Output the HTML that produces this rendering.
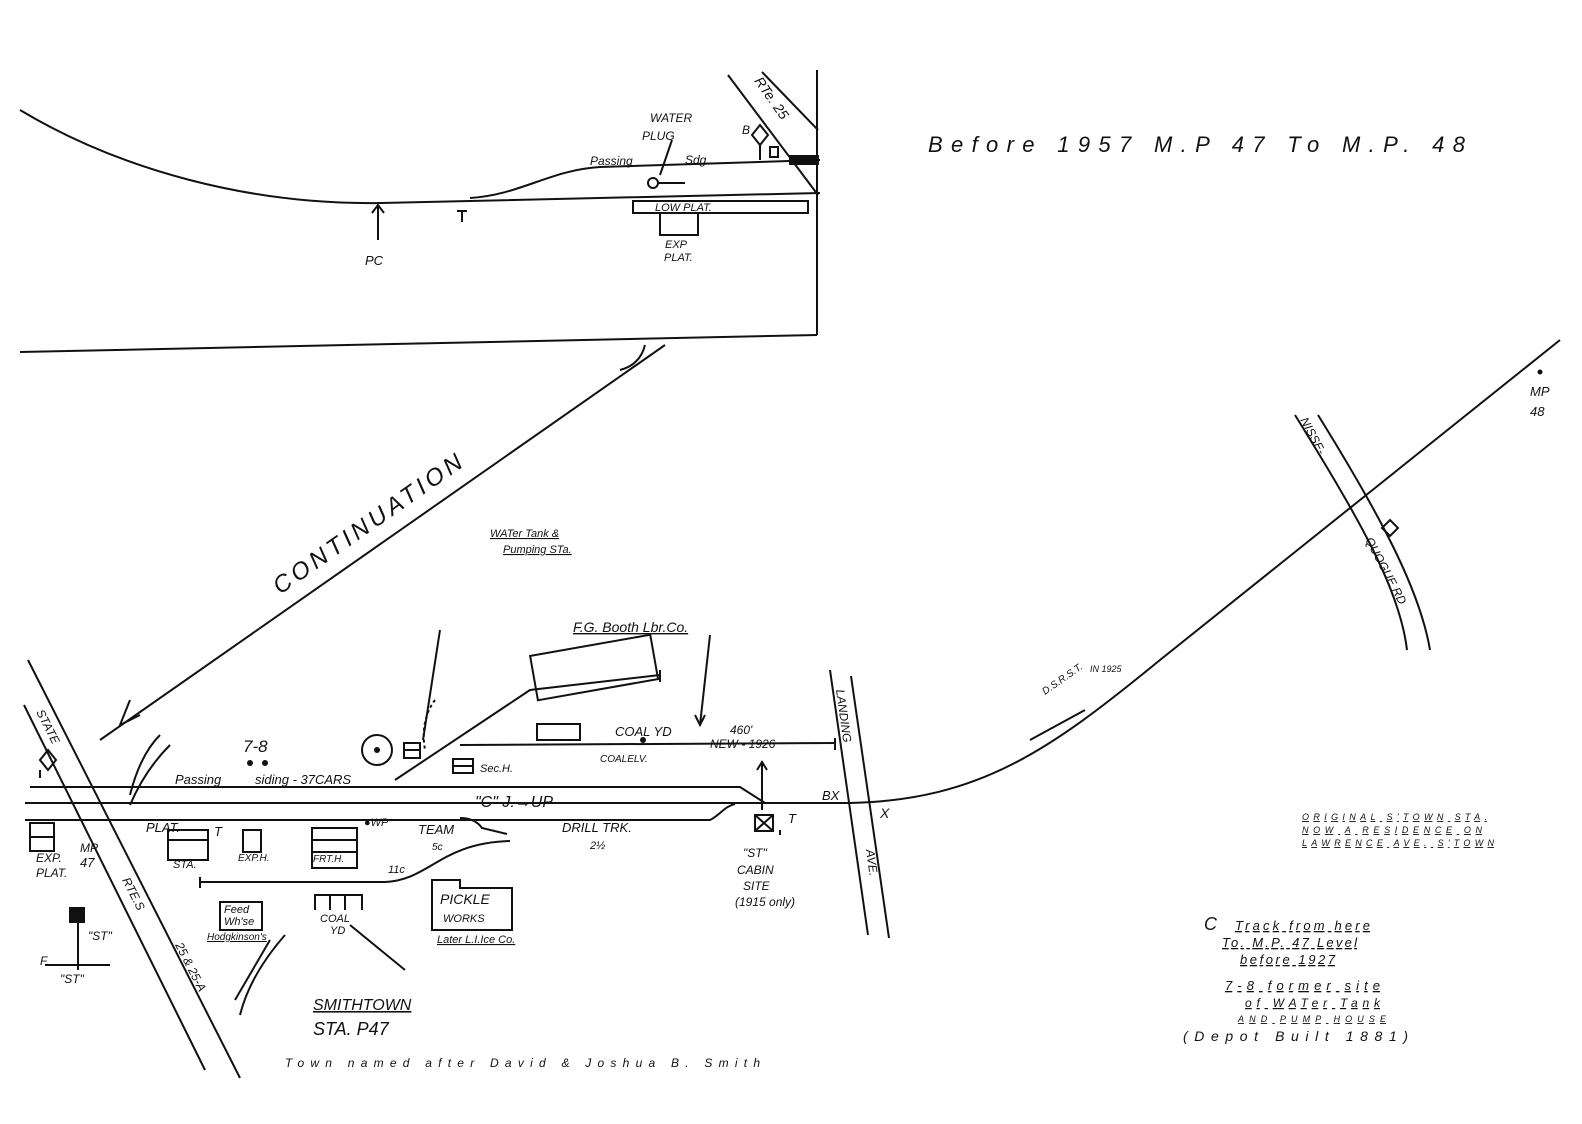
<!DOCTYPE html>
<html><head><style>
html,body{margin:0;padding:0;background:#fff;}
svg{display:block;}
text{font-family:"Liberation Sans",sans-serif;fill:#111;font-style:italic;}
</style></head><body>
<svg width="1582" height="1124" viewBox="0 0 1582 1124" xmlns="http://www.w3.org/2000/svg">
<g stroke="#111" stroke-width="2" fill="none">
<path d="M20,110 C120,170 250,205 380,203 L820,193"/>
<path d="M470,198 C520,195 550,170 600,167 L820,160"/>
<line x1="817" y1="70" x2="817" y2="335"/>
<line x1="20" y1="352" x2="817" y2="335"/>
<line x1="728" y1="75" x2="818" y2="195"/>
<line x1="762" y1="72" x2="818" y2="130"/>
<rect x="633" y="201" width="175" height="12"/>
<rect x="660" y="213" width="38" height="22"/>
<rect x="790" y="156" width="28" height="8" fill="#111"/>
<path d="M760,125 l8,10 l-8,10 l-8,-10 z"/><line x1="760" y1="145" x2="760" y2="160"/>
<rect x="770" y="147" width="8" height="10"/>
<circle cx="653" cy="183" r="5"/><line x1="658" y1="183" x2="685" y2="183"/>
<line x1="672" y1="140" x2="660" y2="175"/>
<line x1="378" y1="205" x2="378" y2="240"/><path d="M372,213 l6,-8 l6,8"/>
<line x1="457" y1="211" x2="467" y2="211"/><line x1="462" y1="211" x2="462" y2="222"/>
<line x1="665" y1="345" x2="100" y2="740"/>
<path d="M130,700 L120,725 L140,715"/>
<path d="M620,370 q20,-5 25,-25"/>
<path d="M25,803 L850,803 C980,800 1050,750 1160,660 L1560,340"/>
<path d="M30,787 L740,787 L765,803"/>
<path d="M25,820 L710,820 C720,815 725,806 735,804"/>
<path d="M460,818 q15,0 22,10 l25,6"/>
<path d="M200,882 L385,882 C430,880 440,843 510,841"/>
<line x1="200" y1="877" x2="200" y2="888"/>
<path d="M395,780 L530,690 L660,675"/>
<line x1="660" y1="670" x2="660" y2="682"/>
<line x1="460" y1="745" x2="835" y2="743"/><line x1="835" y1="738" x2="835" y2="750"/>
<rect x="533" y="645" width="122" height="45" transform="rotate(-10 594 667)"/>
<rect x="537" y="724" width="43" height="16"/>
<line x1="710" y1="635" x2="700" y2="725"/><path d="M695,715 l5,10 l5,-10"/>
<circle cx="377" cy="750" r="15"/><circle cx="377" cy="750" r="2" fill="#111"/>
<rect x="404" y="743" width="16" height="15"/><line x1="404" y1="750" x2="420" y2="750"/>
<rect x="453" y="759" width="20" height="14"/><line x1="453" y1="766" x2="473" y2="766"/>
<line x1="440" y1="630" x2="423" y2="740"/>
<path d="M435,700 q-15,20 -10,50" stroke-dasharray="3,3"/>
<line x1="28" y1="660" x2="240" y2="1078"/>
<line x1="24" y1="705" x2="205" y2="1070"/>
<line x1="830" y1="670" x2="868" y2="935"/>
<line x1="851" y1="676" x2="889" y2="938"/>
<path d="M1295,415 C1360,520 1400,590 1407,650"/>
<path d="M1318,415 C1380,515 1420,590 1430,650"/>
<path d="M1390,520 l8,8 l-8,8 l-8,-8 z"/>
<rect x="30" y="823" width="24" height="28"/><line x1="30" y1="837" x2="54" y2="837"/>
<rect x="168" y="830" width="40" height="30"/><line x1="168" y1="840" x2="208" y2="840"/>
<rect x="243" y="830" width="18" height="22"/>
<rect x="312" y="828" width="45" height="40"/><line x1="312" y1="840" x2="357" y2="840"/><line x1="312" y1="852" x2="357" y2="852"/>
<rect x="220" y="902" width="42" height="28"/>
<path d="M315,910 L315,895 L362,895 L362,910 M330,895 L330,910 M345,895 L345,910"/>
<path d="M432,880 L460,880 L460,888 L512,888 L512,930 L432,930 Z"/>
<path d="M40,760 l8,-10 l8,10 l-8,10 z"/><line x1="40" y1="770" x2="40" y2="778"/>
<line x1="780" y1="830" x2="780" y2="835"/>
<rect x="755" y="815" width="18" height="16"/><line x1="755" y1="815" x2="773" y2="831"/><line x1="773" y1="815" x2="755" y2="831"/>
<line x1="762" y1="762" x2="762" y2="810"/><path d="M757,770 l5,-8 l5,8"/>
<line x1="78" y1="920" x2="78" y2="970"/><rect x="70" y="908" width="14" height="14" fill="#111"/>
<line x1="45" y1="965" x2="110" y2="965"/>
<path d="M160,735 q-20,20 -30,60 M170,745 q-25,25 -40,60"/>
<path d="M270,940 l-35,60 M285,935 q-35,40 -45,80"/>
<line x1="350" y1="925" x2="405" y2="970"/>
<line x1="1030" y1="740" x2="1085" y2="710"/>
</g>
<g stroke="none">
<circle cx="250" cy="763" r="3" fill="#111"/><circle cx="265" cy="763" r="3" fill="#111"/>
<circle cx="643" cy="740" r="3" fill="#111"/>
<circle cx="1540" cy="372" r="2.5" fill="#111"/>
</g>
<text x="928" y="152" font-size="22" textLength="537" lengthAdjust="spacing">Before   1957   M.P  47     To     M.P. 48</text>
<text x="650" y="122" font-size="12">WATER</text><text x="642" y="140" font-size="12">PLUG</text>
<text x="742" y="134" font-size="12">B</text>
<text x="590" y="165" font-size="12">Passing</text><text x="685" y="164" font-size="12">Sdg.</text>
<text x="655" y="211" font-size="11">LOW   PLAT.</text>
<text x="665" y="248" font-size="11">EXP</text><text x="664" y="261" font-size="11">PLAT.</text>
<text x="365" y="265" font-size="13">PC</text>
<text x="745" y="92" font-size="14" transform="rotate(55 760 95)">RTe. 25</text>
<text x="280" y="595" font-size="24" letter-spacing="4" transform="rotate(-35 280 595)">CONTINUATION</text>
<text x="490" y="537" font-size="11" text-decoration="underline">WATer Tank &amp;</text>
<text x="503" y="553" font-size="11" text-decoration="underline">Pumping STa.</text>
<text x="573" y="632" font-size="14" text-decoration="underline">F.G. Booth Lbr.Co.</text>
<text x="243" y="752" font-size="17">7-8</text>
<text x="175" y="784" font-size="13">Passing</text><text x="255" y="784" font-size="13">siding - 37CARS</text>
<text x="615" y="736" font-size="13">COAL  YD</text>
<text x="730" y="734" font-size="12">460'</text><text x="710" y="748" font-size="12">NEW - 1926</text>
<text x="600" y="762" font-size="10">COALELV.</text><text x="480" y="772" font-size="11">Sec.H.</text>
<text x="475" y="807" font-size="16">"C" J.→UP</text>
<text x="146" y="832" font-size="13">PLAT.</text>
<text x="214" y="836" font-size="13">T</text>
<text x="364" y="826" font-size="11">●WP</text>
<text x="418" y="834" font-size="13">TEAM</text>
<text x="562" y="832" font-size="13">DRILL  TRK.</text>
<text x="432" y="850" font-size="10">5c</text><text x="590" y="849" font-size="11">2½</text><text x="388" y="873" font-size="11">11c</text>
<text x="36" y="862" font-size="12">EXP.</text><text x="36" y="877" font-size="12">PLAT.</text>
<text x="80" y="852" font-size="12">MP</text><text x="80" y="867" font-size="13">47</text>
<text x="173" y="868" font-size="11">STA.</text><text x="238" y="861" font-size="10">EXP.H.</text><text x="313" y="862" font-size="10">FRT.H.</text>
<text x="224" y="913" font-size="11">Feed</text><text x="224" y="925" font-size="11">Wh'se</text>
<text x="207" y="940" font-size="10" text-decoration="underline">Hodgkinson's</text>
<text x="320" y="922" font-size="11">COAL</text><text x="330" y="934" font-size="11">YD</text>
<text x="440" y="904" font-size="14">PICKLE</text><text x="443" y="922" font-size="11">WORKS</text>
<text x="437" y="943" font-size="11" text-decoration="underline">Later L.I.Ice Co.</text>
<text x="743" y="857" font-size="12">"ST"</text><text x="737" y="874" font-size="12">CABIN</text><text x="743" y="890" font-size="12">SITE</text><text x="735" y="906" font-size="12">(1915 only)</text>
<text x="788" y="823" font-size="13">T</text>
<text x="822" y="800" font-size="13">BX</text><text x="880" y="818" font-size="14">X</text>
<text x="836" y="690" font-size="12" transform="rotate(82 836 690)">LANDING</text>
<text x="866" y="850" font-size="12" transform="rotate(82 866 850)">AVE.</text>
<text x="36" y="712" font-size="12" transform="rotate(63 36 712)">STATE</text>
<text x="122" y="880" font-size="12" transform="rotate(63 122 880)">RTE.S</text>
<text x="175" y="945" font-size="12" transform="rotate(63 175 945)">25 &amp; 25-A</text>
<text x="88" y="940" font-size="12">"ST"</text><text x="40" y="965" font-size="12">F.</text><text x="60" y="983" font-size="12">"ST"</text>
<text x="313" y="1010" font-size="16" text-decoration="underline">SMITHTOWN</text>
<text x="313" y="1035" font-size="18">STA. P47</text>
<text x="285" y="1067" font-size="12" textLength="475" lengthAdjust="spacing">Town named after David &amp; Joshua B. Smith</text>
<text x="1300" y="420" font-size="12" transform="rotate(62 1300 420)">NISSE-</text>
<text x="1365" y="540" font-size="12" transform="rotate(62 1365 540)">QUOGUE RD</text>
<text x="1530" y="396" font-size="13">MP</text><text x="1530" y="416" font-size="13">48</text>
<text x="1045" y="695" font-size="10" transform="rotate(-35 1045 695)">D.S.R.S.T.</text>
<text x="1090" y="672" font-size="9">IN 1925</text>
<text x="1302" y="820" font-size="9" text-decoration="underline" textLength="185" lengthAdjust="spacing">ORIGINAL S'TOWN STA.</text>
<text x="1302" y="833" font-size="9" text-decoration="underline" textLength="180" lengthAdjust="spacing">NOW A RESIDENCE ON</text>
<text x="1302" y="846" font-size="9" text-decoration="underline" textLength="192" lengthAdjust="spacing">LAWRENCE AVE. S'TOWN</text>
<text x="1204" y="930" font-size="18">C</text><text x="1235" y="930" font-size="13" text-decoration="underline" textLength="135" lengthAdjust="spacing">Track from here</text>
<text x="1222" y="947" font-size="13" text-decoration="underline" textLength="135" lengthAdjust="spacing">To. M.P. 47 Level</text>
<text x="1240" y="964" font-size="13" text-decoration="underline" textLength="95" lengthAdjust="spacing">before 1927</text>
<text x="1225" y="990" font-size="13" text-decoration="underline" textLength="155" lengthAdjust="spacing">7-8  former site</text>
<text x="1245" y="1007" font-size="12" text-decoration="underline" textLength="135" lengthAdjust="spacing">of WATer Tank</text>
<text x="1238" y="1022" font-size="9" text-decoration="underline" textLength="148" lengthAdjust="spacing">AND PUMP HOUSE</text>
<text x="1183" y="1041" font-size="14" textLength="225" lengthAdjust="spacing">(Depot  Built   1881)</text>
</svg>
</body></html>
